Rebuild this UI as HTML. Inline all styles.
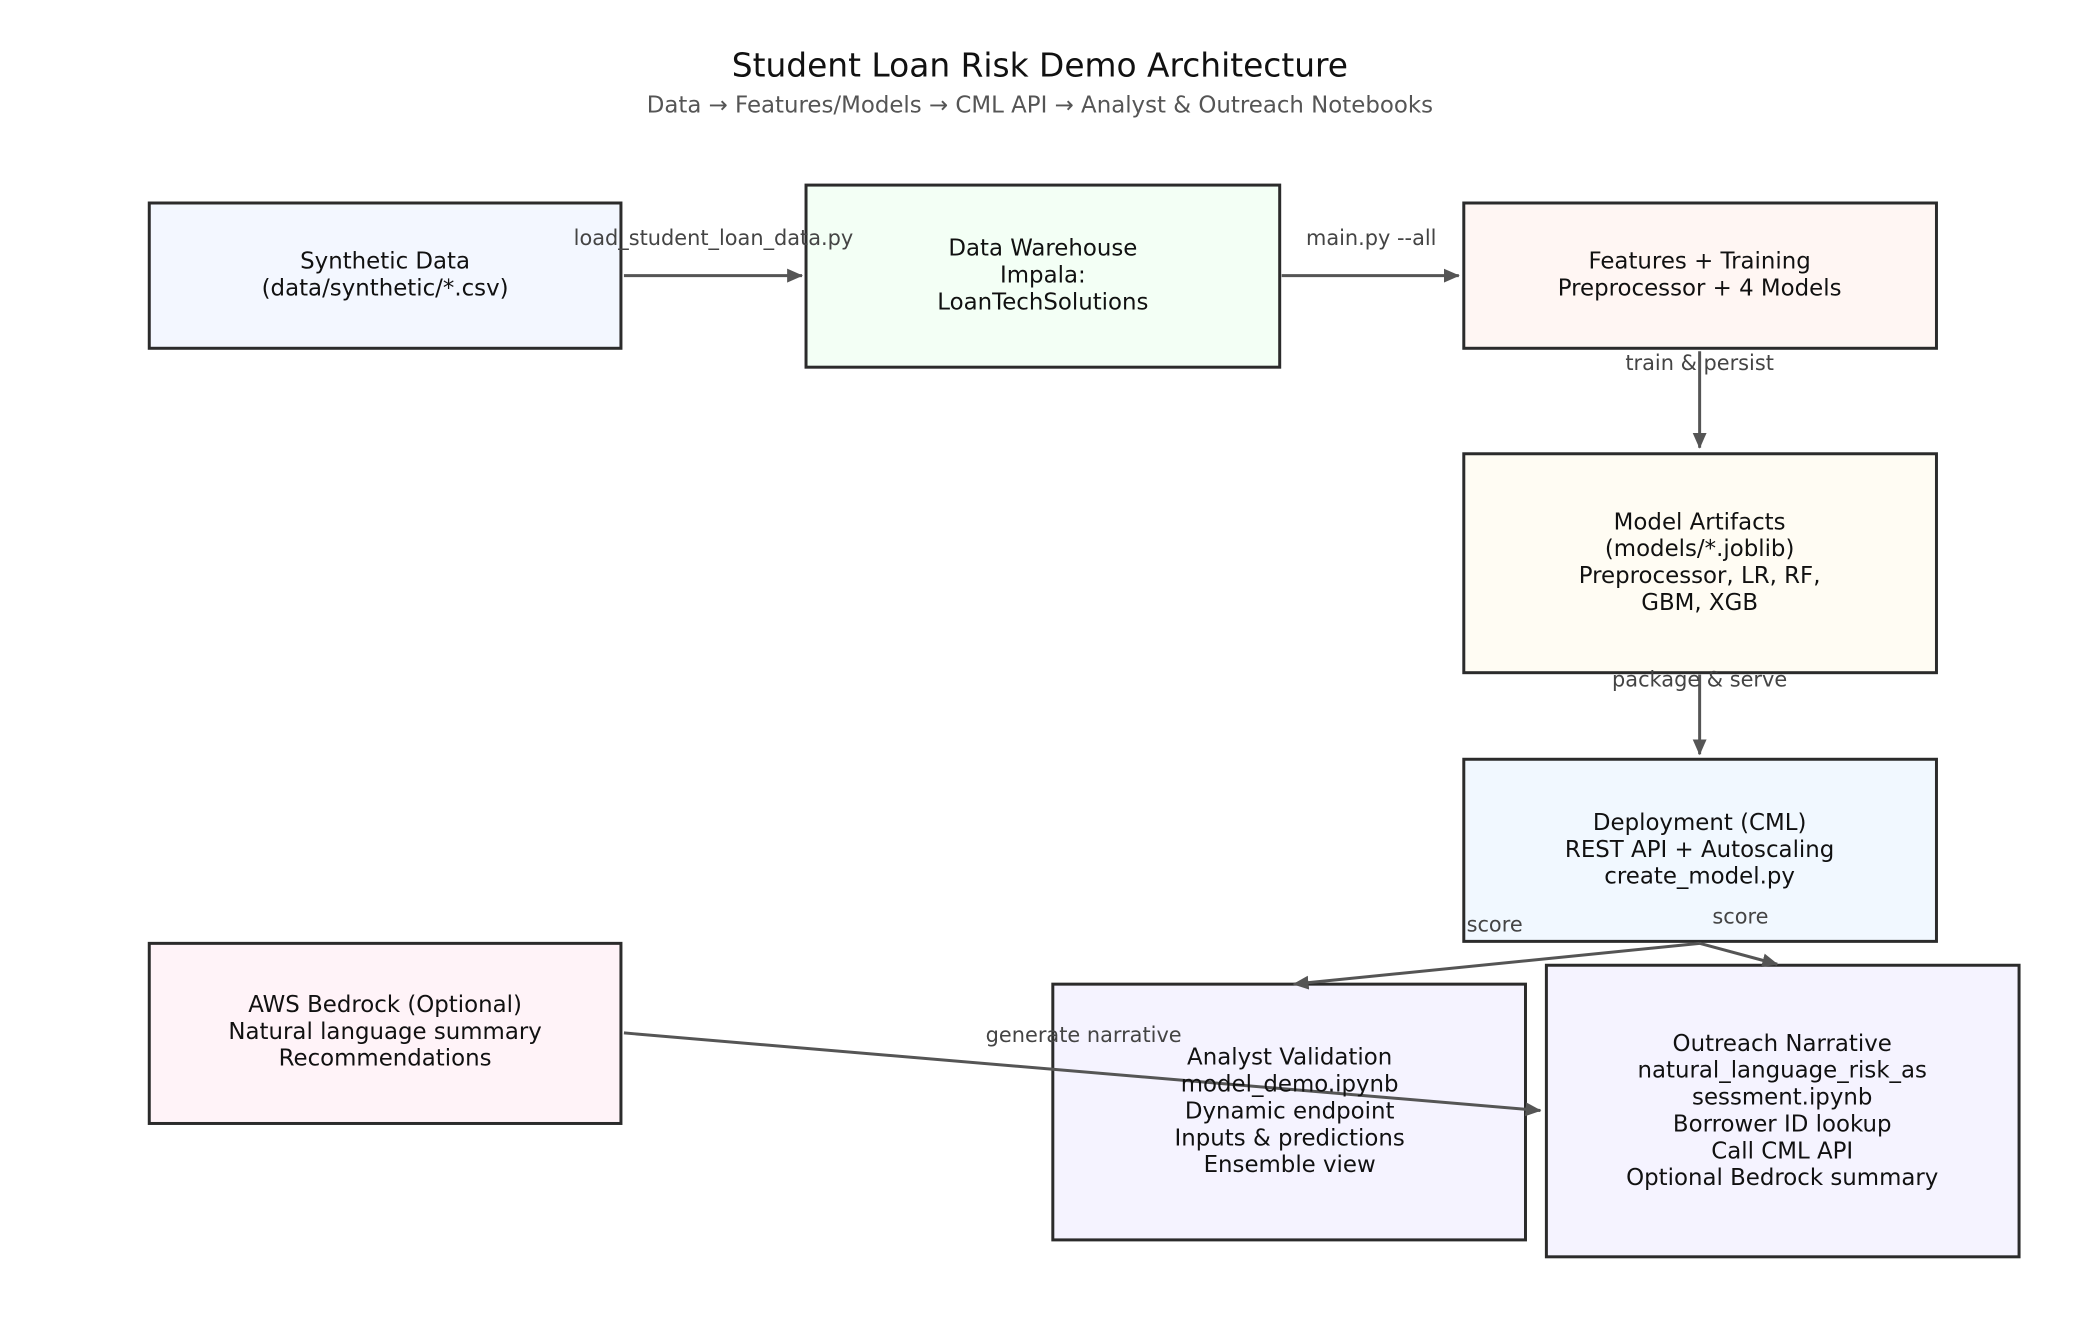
<!DOCTYPE html>
<html><head><meta charset="utf-8"><style>
html,body{margin:0;padding:0;background:#fff;}
svg{display:block;font-family:"DejaVu Sans","Liberation Sans",sans-serif;}
</style></head><body>
<svg width="2085" height="1335" viewBox="0 0 2085 1335" xmlns="http://www.w3.org/2000/svg">
<defs><marker id="b" markerWidth="16" markerHeight="14" refX="15" refY="7" orient="auto" markerUnits="userSpaceOnUse"><path d="M0,0 L16,7 L0,14 z" fill="#555"/></marker></defs>
<g transform="scale(0.9951)">
<text x="1045" y="77" font-size="33" text-anchor="middle" fill="#111">Student Loan Risk Demo Architecture</text>
<text x="1045" y="113" font-size="23" text-anchor="middle" fill="#555">Data → Features/Models → CML API → Analyst &amp; Outreach Notebooks</text>
<g stroke="#2b2b2b" stroke-width="3">
<rect x="150" y="204" width="474" height="146" fill="#f3f7ff"/>
<rect x="810" y="186" width="476" height="183" fill="#f3fff5"/>
<rect x="1471" y="204" width="475" height="146" fill="#fff6f3"/>
<rect x="1471" y="456" width="475" height="220" fill="#fffcf3"/>
<rect x="1471" y="763" width="475" height="183" fill="#f1f8ff"/>
<rect x="150" y="948" width="474" height="181" fill="#fff3f8"/>
<rect x="1058" y="989" width="475" height="257" fill="#f5f3ff"/>
<rect x="1554" y="970" width="475" height="293" fill="#f5f3ff"/>
</g>
<g stroke="#555" stroke-width="3" fill="none" marker-end="url(#b)">
<line x1="627" y1="277" x2="806" y2="277"/>
<line x1="1288" y1="277" x2="1466" y2="277"/>
<line x1="1708" y1="353" x2="1708" y2="450"/>
<line x1="1708" y1="678" x2="1708" y2="758"/>
<line x1="1708" y1="948" x2="1300" y2="989"/>
<line x1="1708" y1="948" x2="1786" y2="969"/>
<line x1="627" y1="1038" x2="1548" y2="1116"/>
</g>
<g font-size="23" text-anchor="middle" fill="#111">
<text x="387" y="270">Synthetic Data</text><text x="387" y="297">(data/synthetic/*.csv)</text>
<text x="1048" y="257">Data Warehouse</text><text x="1048" y="284">Impala:</text><text x="1048" y="311">LoanTechSolutions</text>
<text x="1708" y="270">Features + Training</text><text x="1708" y="297">Preprocessor + 4 Models</text>
<text x="1708" y="532">Model Artifacts</text><text x="1708" y="559">(models/*.joblib)</text><text x="1708" y="586">Preprocessor, LR, RF,</text><text x="1708" y="613">GBM, XGB</text>
<text x="1708" y="834">Deployment (CML)</text><text x="1708" y="861">REST API + Autoscaling</text><text x="1708" y="888">create_model.py</text>
<text x="387" y="1017">AWS Bedrock (Optional)</text><text x="387" y="1044">Natural language summary</text><text x="387" y="1071">Recommendations</text>
<text x="1296" y="1070">Analyst Validation</text><text x="1296" y="1097">model_demo.ipynb</text><text x="1296" y="1124">Dynamic endpoint</text><text x="1296" y="1151">Inputs &amp; predictions</text><text x="1296" y="1178">Ensemble view</text>
<text x="1791" y="1056">Outreach Narrative</text><text x="1791" y="1083">natural_language_risk_as</text><text x="1791" y="1110">sessment.ipynb</text><text x="1791" y="1137">Borrower ID lookup</text><text x="1791" y="1164">Call CML API</text><text x="1791" y="1191">Optional Bedrock summary</text>
</g>
<g font-size="21" text-anchor="middle" fill="#444">
<text x="717" y="246">load_student_loan_data.py</text>
<text x="1378" y="246">main.py --all</text>
<text x="1708" y="372">train &amp; persist</text>
<text x="1708" y="690">package &amp; serve</text>
<text x="1502" y="936">score</text>
<text x="1749" y="928">score</text>
<text x="1089" y="1047">generate narrative</text>
</g>
</g>
</svg>
</body></html>
